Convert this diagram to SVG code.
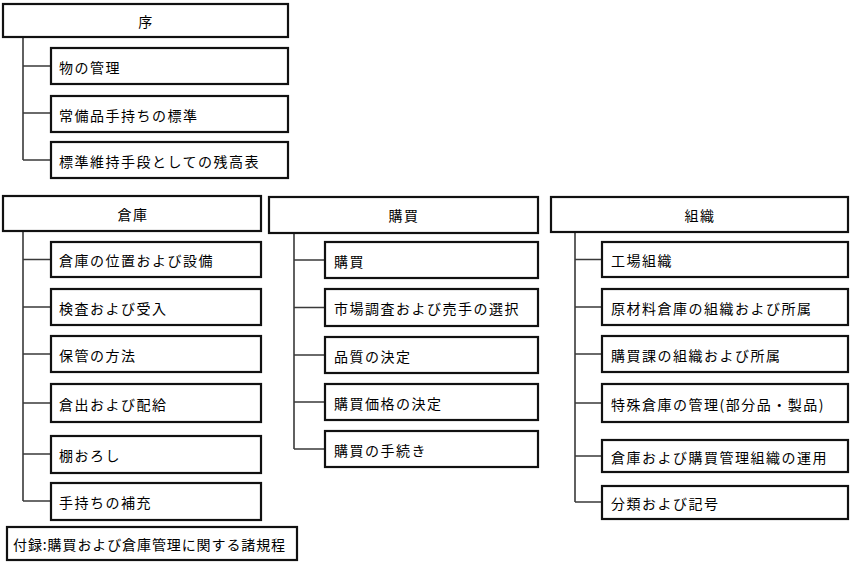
<svg xmlns="http://www.w3.org/2000/svg" width="852" height="567" viewBox="0 0 852 567">
<style>
rect{fill:#fff;stroke:#111;stroke-width:2.2}
text{font-family:"Noto Sans CJK JP","Noto Sans",sans-serif;font-size:14px;letter-spacing:1.5px;fill:#000;dominant-baseline:central}
.t{text-anchor:middle}
#connectors path{fill:none;stroke:#3a3a3a;stroke-width:1.6}
</style>
<rect x="0" y="0" width="852" height="567" style="fill:#fff;stroke:none"/>
<g id="connectors">
<path d="M23 37V160M23 66H51M23 113H51M23 160H51"/>
<path d="M23 231V501M23 259.5H51M23 307H51M23 354H51M23 403H51M23 454H51M23 501H51"/>
<path d="M294 233V449M294 260H325M294 307.5H325M294 355H325M294 402H325M294 449H325"/>
<path d="M575 232V502M575 259.5H602M575 307H602M575 354H602M575 403H602M575 456H602M575 502H602"/>
</g>
<g id="n-jo"><rect x="3" y="4" width="285" height="33"/><text class="t" x="146" y="21">序</text></g>
<g id="n-jo1"><rect x="51" y="48" width="237" height="36"/><text x="59" y="66.5">物の管理</text></g>
<g id="n-jo2"><rect x="51" y="96" width="237" height="36"/><text x="59" y="114.5">常備品手持ちの標準</text></g>
<g id="n-jo3"><rect x="51" y="142" width="237" height="36"/><text x="59" y="160.5">標準維持手段としての残高表</text></g>

<g id="n-soko"><rect x="3" y="196" width="258" height="35"/><text class="t" x="133" y="213.5">倉庫</text></g>
<g id="n-soko1"><rect x="51" y="242" width="210" height="35"/><text x="59" y="260">倉庫の位置および設備</text></g>
<g id="n-soko2"><rect x="51" y="289" width="210" height="36"/><text x="59" y="307.5">検査および受入</text></g>
<g id="n-soko3"><rect x="51" y="336" width="210" height="36"/><text x="59" y="354.5">保管の方法</text></g>
<g id="n-soko4"><rect x="51" y="384" width="210" height="38"/><text x="59" y="403.5">倉出および配給</text></g>
<g id="n-soko5"><rect x="51" y="436" width="210" height="37"/><text x="59" y="455">棚おろし</text></g>
<g id="n-soko6"><rect x="51" y="483" width="210" height="37"/><text x="59" y="502">手持ちの補充</text></g>

<g id="n-kobai"><rect x="269" y="197" width="269" height="36"/><text class="t" x="404" y="215">購買</text></g>
<g id="n-kobai1"><rect x="325" y="242" width="213" height="36"/><text x="334" y="260.5">購買</text></g>
<g id="n-kobai2"><rect x="325" y="289" width="213" height="37"/><text x="334" y="308">市場調査および売手の選択</text></g>
<g id="n-kobai3"><rect x="325" y="337" width="213" height="36"/><text x="334" y="355.5">品質の決定</text></g>
<g id="n-kobai4"><rect x="325" y="384" width="213" height="36"/><text x="334" y="402.5">購買価格の決定</text></g>
<g id="n-kobai5"><rect x="325" y="431" width="213" height="36"/><text x="334" y="449.5">購買の手続き</text></g>

<g id="n-soshiki"><rect x="551" y="197" width="297" height="35"/><text class="t" x="700" y="214.5">組織</text></g>
<g id="n-soshiki1"><rect x="602" y="242" width="246" height="35"/><text x="611" y="260">工場組織</text></g>
<g id="n-soshiki2"><rect x="602" y="289" width="246" height="36"/><text x="611" y="307.5">原材料倉庫の組織および所属</text></g>
<g id="n-soshiki3"><rect x="602" y="336" width="246" height="36"/><text x="611" y="354.5">購買課の組織および所属</text></g>
<g id="n-soshiki4"><rect x="602" y="384" width="246" height="38"/><text x="611" y="403.5">特殊倉庫の管理(部分品・製品)</text></g>
<g id="n-soshiki5"><rect x="602" y="440" width="246" height="32"/><text x="611" y="456.5">倉庫および購買管理組織の運用</text></g>
<g id="n-soshiki6"><rect x="602" y="486" width="246" height="33"/><text x="611" y="503">分類および記号</text></g>

<g id="n-furoku"><rect x="7" y="527" width="290" height="33"/><text x="13" y="544" style="letter-spacing:0.9px">付録:購買および倉庫管理に関する諸規程</text></g>
</svg>
